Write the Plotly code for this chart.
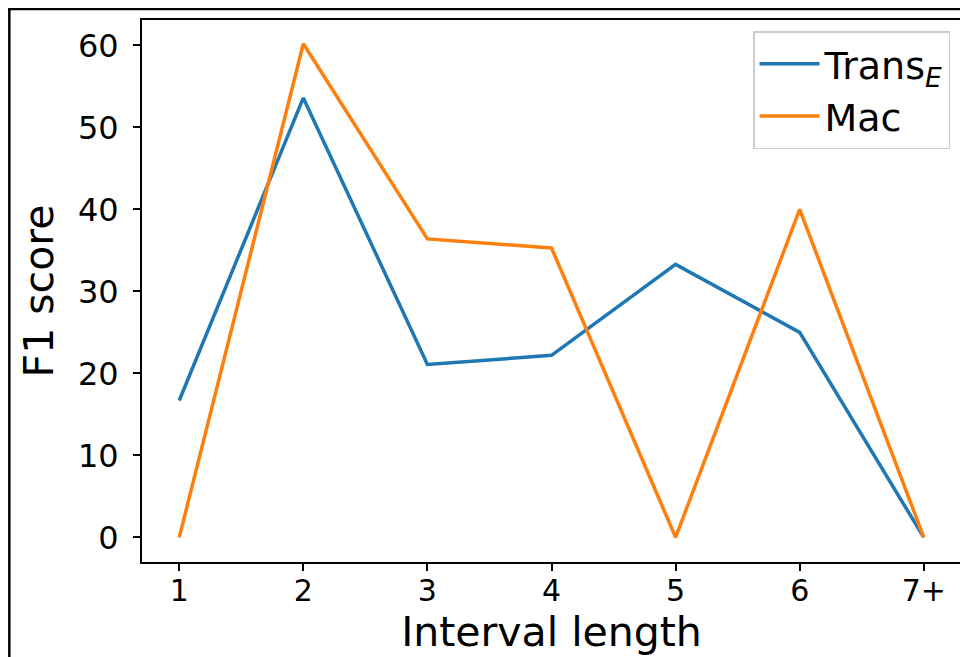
import plotly.graph_objects as go

categories = ["1", "2", "3", "4", "5", "6", "7+"]
x_pos = [1, 2, 3, 4, 5, 6, 7]
trans_e = [16.7, 53.6, 21.1, 22.2, 33.3, 25.0, 0.0]
mac = [0.0, 60.2, 36.4, 35.3, 0.0, 40.0, 0.0]
y_ticks = [0, 10, 20, 30, 40, 50, 60]

FONT = "DejaVu Sans"

fig = go.Figure()
fig.add_trace(go.Scatter(x=x_pos, y=trans_e, mode="lines", name="Trans<sub><i>E</i></sub>",
                         line=dict(color="#1f77b4", width=3.5), legendgroup="a"))
fig.add_trace(go.Scatter(x=x_pos, y=mac, mode="lines", name="Mac",
                         line=dict(color="#ff7f0e", width=3.5), legendgroup="b"))

# the page body adds an 8px offset, so the figure is drawn 8px smaller
OFF = 8
W, H = 968 - OFF, 657 - OFF
ml, mr, mt, mb = 142 - OFF, W - (963 - OFF), 20 - OFF, H - (562 - OFF)
pw, ph = W - ml - mr, H - mt - mb

def px_x(p):
    return (p - OFF - ml) / pw

def px_y(p):
    return (H - mb - (p - OFF)) / ph

fig.update_layout(
    width=W, height=H,
    margin=dict(l=ml, r=mr, t=mt, b=mb, pad=0),
    plot_bgcolor="white", paper_bgcolor="white",
    font=dict(family=FONT, color="black"),
    showlegend=True,
    legend=dict(x=px_x(952), y=px_y(31), xanchor="right", yanchor="top",
                bgcolor="rgba(255,255,255,0.8)", bordercolor="#cccccc", borderwidth=1.5,
                font=dict(size=38, family=FONT), itemwidth=60,
                traceorder="grouped", tracegroupgap=0),
    xaxis=dict(range=[0.7, 7.3], tickmode="array", tickvals=x_pos, ticktext=categories,
               showgrid=False, zeroline=False, showline=True, linecolor="black", linewidth=2,
               mirror=True, ticks="outside", ticklen=7, tickwidth=2, tickcolor="black",
               tickfont=dict(size=30), ticklabelstandoff=-6,
               title=dict(text="Interval length", font=dict(size=41), standoff=8)),
    yaxis=dict(range=[-3.0, 63.1], tickmode="array", tickvals=y_ticks,
               showgrid=False, zeroline=False, showline=True, linecolor="black", linewidth=2,
               mirror=True, ticks="outside", ticklen=7, tickwidth=2, tickcolor="black",
               tickfont=dict(size=32), ticklabelstandoff=8,
               title=dict(text="F1 score", font=dict(size=41), standoff=12)),
    shapes=[dict(type="rect", xref="paper", yref="paper",
                 x0=px_x(9), x1=px_x(966), y0=px_y(670), y1=px_y(9),
                 line=dict(color="black", width=2.5), fillcolor="rgba(0,0,0,0)", layer="above")],
)

fig.write_html("out.html")
